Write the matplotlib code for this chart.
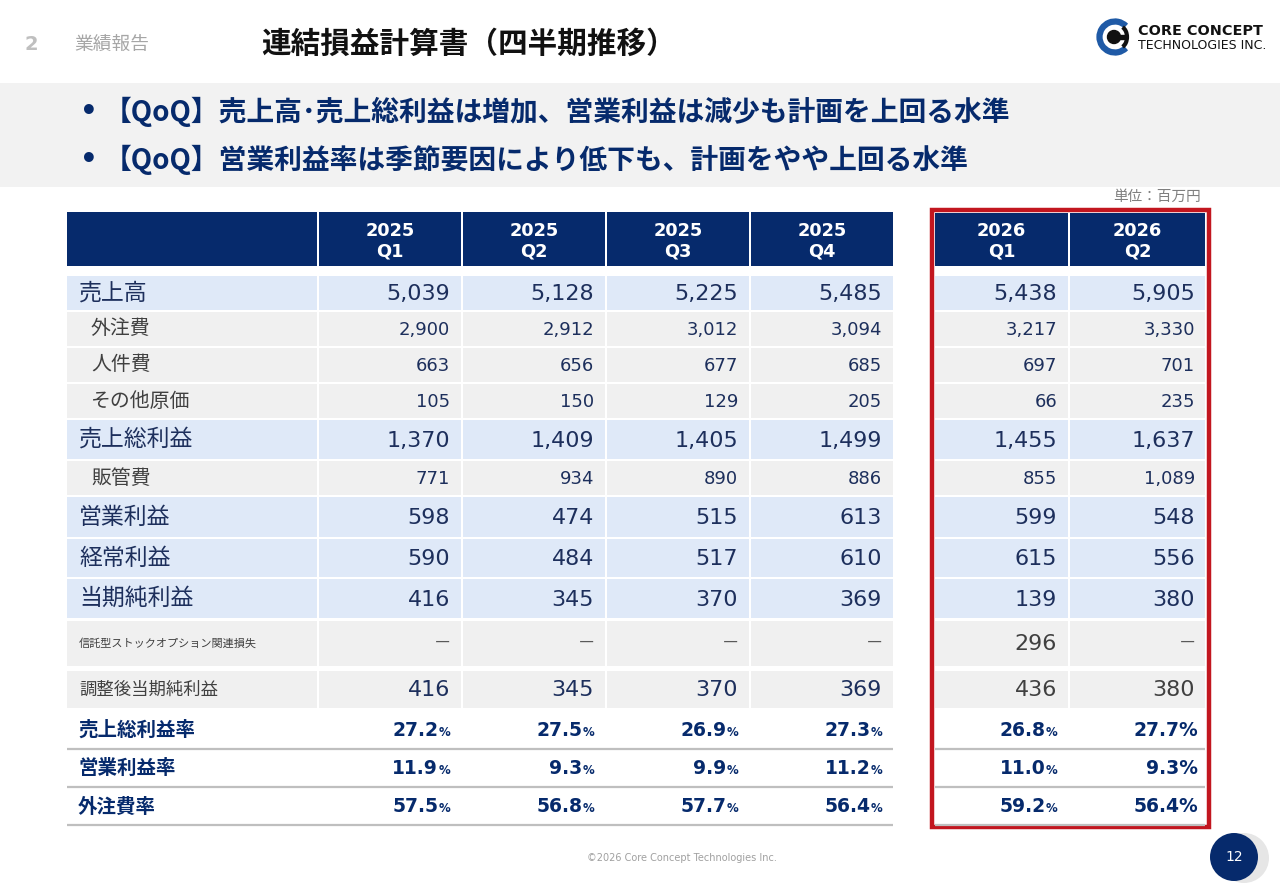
import matplotlib
matplotlib.use("Agg")
import matplotlib.pyplot as plt
from matplotlib.patches import Rectangle, Circle, Arc

# ---- data ----
quarters = ["2025\nQ1", "2025\nQ2", "2025\nQ3", "2025\nQ4", "2026\nQ1", "2026\nQ2"]

row_labels = ["売上高", "外注費", "人件費", "その他原価", "売上総利益", "販管費",
              "営業利益", "経常利益", "当期純利益", "信託型ストックオプション関連損失",
              "調整後当期純利益"]
sales = [5039, 5128, 5225, 5485, 5438, 5905]
outsourcing = [2900, 2912, 3012, 3094, 3217, 3330]
personnel = [663, 656, 677, 685, 697, 701]
other_cost = [105, 150, 129, 205, 66, 235]
gross_profit = [1370, 1409, 1405, 1499, 1455, 1637]
sga = [771, 934, 890, 886, 855, 1089]
op_income = [598, 474, 515, 613, 599, 548]
ordinary_income = [590, 484, 517, 610, 615, 556]
net_income = [416, 345, 370, 369, 139, 380]
so_loss = [None, None, None, None, 296, None]
adj_net_income = [416, 345, 370, 369, 436, 380]

ratio_labels = ["売上総利益率", "営業利益率", "外注費率"]
gross_margin = [27.2, 27.5, 26.9, 27.3, 26.8, 27.7]
op_margin = [11.9, 9.3, 9.9, 11.2, 11.0, 9.3]
outsourcing_ratio = [57.5, 56.8, 57.7, 56.4, 59.2, 56.4]

bullets = ["【QoQ】売上高･売上総利益は増加、営業利益は減少も計画を上回る水準",
           "【QoQ】営業利益率は季節要因により低下も、計画をやや上回る水準"]

# ---- style ----
NAVY = "#062a6c"
TXT = "#1d2f5c"
GRAY_TXT = "#404040"
BLUE_BG = "#dfe9f8"
GRAY_BG = "#f0f0f0"
RED = "#c2161f"
JP = ["Noto Sans CJK JP", "DejaVu Sans"]
NUM = ["DejaVu Sans", "Noto Sans CJK JP"]
plt.rcParams["font.family"] = JP

fig = plt.figure(figsize=(12.8, 8.86), dpi=100)
ax = fig.add_axes([0, 0, 1, 1])
ax.set_xlim(0, 1280)
ax.set_ylim(886, 0)
ax.axis("off")

# ---- header ----
ax.text(25, 44, "2", fontsize=14, fontweight="bold", color="#bfbfbf", va="center", family=NUM)
ax.text(74, 44, "業績報告", fontsize=13.5, color="#a6a6a6", va="center")
ax.text(261, 44, "連結損益計算書（四半期推移）", fontsize=21.3, fontweight="bold", color="#111111", va="center")

# logo
ax.add_patch(Arc((1115, 37), 31, 31, theta1=45, theta2=315, lw=4.5, color="#1f5aa6"))
ax.add_patch(Circle((1114, 37), 6.5, color="#111111"))
ax.add_patch(Rectangle((1114, 35), 12, 4, color="#111111"))
ax.add_patch(Arc((1119, 37), 16, 22, theta1=-70, theta2=70, lw=3, color="#111111"))
ax.text(1138, 31, "CORE CONCEPT", fontsize=10.4, fontweight="bold", color="#111111", va="center", family=NUM)
ax.text(1138, 45.5, "TECHNOLOGIES INC.", fontsize=9, color="#111111", va="center", family=NUM)

# bullet band
ax.add_patch(Rectangle((0, 83), 1280, 104, color="#f2f2f2", lw=0))
for i, b in enumerate(bullets):
    y = 112 + 48 * i
    ax.text(80, y, "•", fontsize=20, fontweight="bold", color=NAVY, va="center", family=NUM)
    ax.text(104, y, b, fontsize=20, fontweight="bold", color=NAVY, va="center")

ax.text(1201, 197, "単位：百万円", fontsize=10.5, color="#7f7f7f", va="center", ha="right")

# ---- table geometry ----
left_cols = [(319, 461), (463, 605), (607, 749), (751, 893)]
right_cols = [(935, 1068), (1070, 1205)]
cols = left_cols + right_cols
label_x0, label_x1 = 67, 317

rows_y = [(276, 310), (312, 346), (348, 382), (384, 418), (420, 459), (461, 495),
          (497, 537), (539, 577), (579, 618), (621, 666), (671, 708)]
ratio_y = [(712, 749), (750, 787), (789, 825)]

series = [sales, outsourcing, personnel, other_cost, gross_profit, sga,
          op_income, ordinary_income, net_income, so_loss, adj_net_income]
row_kind = ["big", "small", "small", "small", "big", "small",
            "big", "big", "big", "note", "adj"]

# header row
ax.add_patch(Rectangle((label_x0, 212), label_x1 - label_x0, 54, color=NAVY, lw=0))
for (x0, x1), q in zip(cols, quarters):
    top = 212 if x0 < 900 else 213
    ax.add_patch(Rectangle((x0, top), x1 - x0, 266 - top, color=NAVY, lw=0))
    ax.text((x0 + x1) / 2, 241.5, q, fontsize=12.8, fontweight="bold", color="white",
            ha="center", va="center", family=NUM, linespacing=1.2)

# body rows
for (y0, y1), lab, vals, kind in zip(rows_y, row_labels, series, row_kind):
    bg = BLUE_BG if kind == "big" else GRAY_BG
    yc = (y0 + y1) / 2
    ax.add_patch(Rectangle((label_x0, y0), label_x1 - label_x0, y1 - y0, color=bg, lw=0))
    if kind == "big":
        ax.text(79, yc, lab, fontsize=16.5, color=TXT, va="center")
    elif kind == "small":
        ax.text(91, yc, lab, fontsize=14.3, color=GRAY_TXT, va="center")
    elif kind == "note":
        ax.text(79, yc, lab, fontsize=8, color=GRAY_TXT, va="center")
    else:
        ax.text(79, yc, lab, fontsize=12.5, color=GRAY_TXT, va="center")
    for ci, ((x0, x1), v) in enumerate(zip(cols, vals)):
        ax.add_patch(Rectangle((x0, y0), x1 - x0, y1 - y0, color=bg, lw=0))
        right = x1 - 11 if ci < 5 else x1 - 10
        if v is None:
            ax.text(right, yc, "―", fontsize=11, color="#595959", ha="right", va="center")
            continue
        s = f"{v:,}"
        if kind == "big":
            ax.text(right, yc + 1, s, fontsize=16, color=TXT, ha="right", va="center", family=NUM)
        elif kind == "small":
            ax.text(right, yc + 1, s, fontsize=13, color=TXT, ha="right", va="center", family=NUM)
        else:
            c = TXT if ci < 4 else "#404040"
            ax.text(right, yc + 1, s, fontsize=16, color=c, ha="right", va="center", family=NUM)

# ratio rows
fig.canvas.draw()
renderer = fig.canvas.get_renderer()
for (y0, y1), lab, vals in zip(ratio_y, ratio_labels, [gross_margin, op_margin, outsourcing_ratio]):
    yc = (y0 + y1) / 2
    ax.plot([label_x0, 893], [y1, y1], color="#bfbfbf", lw=1.6, solid_capstyle="butt")
    ax.plot([935, 1205], [y1, y1], color="#bfbfbf", lw=1.6, solid_capstyle="butt")
    ax.text(78, yc, lab, fontsize=14, fontweight="bold", color=NAVY, va="center")
    for ci, ((x0, x1), v) in enumerate(zip(cols, vals)):
        if ci == 5:
            ax.text(x1 - 7, yc, f"{v:.1f}%", fontsize=13.5, fontweight="bold", color=NAVY,
                    ha="right", va="center", family=NUM)
            continue
        right = x1 - 11
        pct = ax.text(right, yc + 2, "%", fontsize=8.5, fontweight="bold", color=NAVY,
                      ha="right", va="center", family=NUM)
        w = pct.get_window_extent(renderer).width
        ax.text(right - w, yc, f"{v:.1f}", fontsize=13.5, fontweight="bold", color=NAVY,
                ha="right", va="center", family=NUM)

# red frame around the 2026 columns
ax.add_patch(Rectangle((931.5, 209.5), 277, 617, fill=False, edgecolor=RED, lw=3.2))

# ---- footer ----
ax.text(682, 858, "©2026 Core Concept Technologies Inc.", fontsize=7, color="#a0a0a0",
        ha="center", va="center", family=NUM)
ax.add_patch(Circle((1244, 858), 25, color="#e6e6e6", lw=0))
ax.add_patch(Circle((1234, 857), 24, color=NAVY, lw=0))
ax.text(1234, 857, "12", fontsize=10, color="white", ha="center", va="center", family=NUM)

fig.savefig("out.png", dpi=100)
